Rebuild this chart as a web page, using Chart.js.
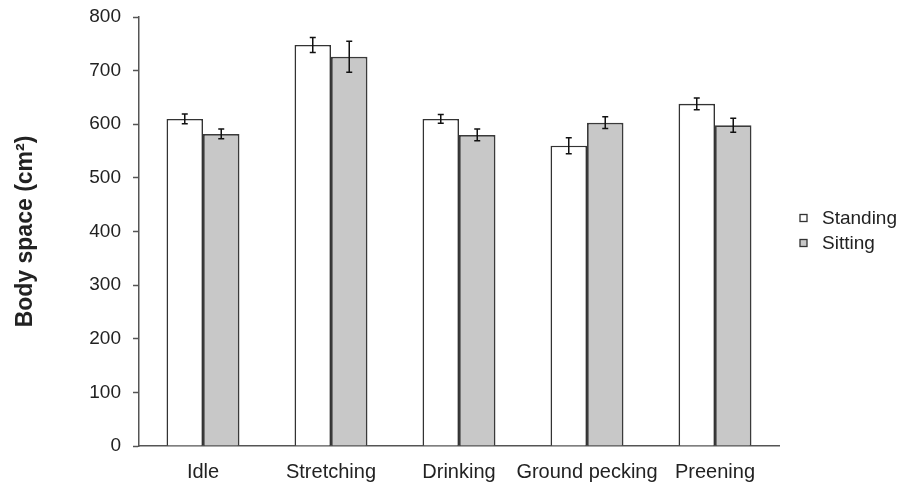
<!DOCTYPE html>
<html>
<head>
<meta charset="utf-8">
<script src="https://cdn.jsdelivr.net/npm/chart.js@4.4.1/dist/chart.umd.min.js"></script>
<style>
  html, body { margin: 0; padding: 0; background: #ffffff; }
  #wrap { width: 914px; height: 485px; position: relative; }
</style>
</head>
<body>
<div id="wrap"><canvas id="chart" width="914" height="485"></canvas></div>
<script>
// Behaviours and body space per posture
const categories = ['Idle', 'Stretching', 'Drinking', 'Ground pecking', 'Preening'];
const standingMeans = [610, 748, 610, 560, 638];
const standingErrors = [9, 14, 8, 15, 11];
const sittingMeans = [582, 726, 580, 603, 598];
const sittingErrors = [9, 29, 11, 11, 13];
const yTicks = [0, 100, 200, 300, 400, 500, 600, 700, 800];

const FONT = "'Liberation Sans', Arial, Helvetica, sans-serif";
const TEXT = '#222222';

// Draws ± error whiskers on top of each bar, using the y scale
const errorBars = {
  id: 'errorBars',
  afterDatasetsDraw(chart) {
    const ctx = chart.ctx;
    const yScale = chart.scales.y;
    chart.data.datasets.forEach((ds, i) => {
      const meta = chart.getDatasetMeta(i);
      meta.data.forEach((bar, j) => {
        const v = ds.data[j];
        const e = ds.errors[j];
        const yTop = yScale.getPixelForValue(v + e);
        const yBot = yScale.getPixelForValue(v - e);
        const x = bar.x;
        const cap = 3;
        ctx.save();
        ctx.strokeStyle = '#111111';
        ctx.lineWidth = 1.5;
        ctx.beginPath();
        ctx.moveTo(x, yTop); ctx.lineTo(x, yBot);
        ctx.moveTo(x - cap, yTop); ctx.lineTo(x + cap, yTop);
        ctx.moveTo(x - cap, yBot); ctx.lineTo(x + cap, yBot);
        ctx.stroke();
        ctx.restore();
      });
    });
  }
};

// Small square-swatch legend to the right of the plot area
const sideLegend = {
  id: 'sideLegend',
  afterDraw(chart) {
    const ctx = chart.ctx;
    const area = chart.chartArea;
    const ds = chart.data.datasets;
    const rowGap = 25;
    const box = 7;
    const x0 = area.right + 21;
    const yStart = 218;
    ctx.save();
    ctx.font = '19px ' + FONT;
    ctx.textBaseline = 'middle';
    ctx.textAlign = 'left';
    ds.forEach((d, i) => {
      const y = yStart + i * rowGap;
      ctx.fillStyle = d.backgroundColor;
      ctx.fillRect(x0, y - box / 2, box, box);
      ctx.strokeStyle = '#333333';
      ctx.lineWidth = 1.3;
      ctx.strokeRect(x0, y - box / 2, box, box);
      ctx.fillStyle = TEXT;
      ctx.fillText(d.label, x0 + 22, y + 1);
    });
    ctx.restore();
  }
};

new Chart(document.getElementById('chart'), {
  type: 'bar',
  data: {
    labels: categories,
    datasets: [
      {
        label: 'Standing',
        data: standingMeans,
        errors: standingErrors,
        backgroundColor: '#ffffff',
        borderColor: '#333333',
        borderWidth: 1.6,
        borderSkipped: 'bottom',
        categoryPercentage: 0.57,
        barPercentage: 1.0
      },
      {
        label: 'Sitting',
        data: sittingMeans,
        errors: sittingErrors,
        backgroundColor: '#c8c8c8',
        borderColor: '#3a3a3a',
        borderWidth: 1.8,
        borderSkipped: 'bottom',
        categoryPercentage: 0.57,
        barPercentage: 1.0
      }
    ]
  },
  options: {
    responsive: false,
    animation: false,
    devicePixelRatio: 1,
    layout: { autoPadding: false, padding: { top: 17, right: 135, left: 0, bottom: 0 } },
    plugins: {
      tooltip: { enabled: false },
      legend: { display: false }
    },
    scales: {
      x: {
        grid: { display: false, drawTicks: false },
        border: { display: true, color: '#555555', width: 1.5 },
        ticks: {
          color: TEXT,
          font: { family: FONT, size: 20 },
          padding: 14,
          maxRotation: 0,
          autoSkip: false
        },
        afterFit(scale) {
          scale.height = 39;
          scale.paddingLeft = 0;
          scale.paddingRight = 0;
        }
      },
      y: {
        min: 0,
        max: 800,
        afterBuildTicks(scale) { scale.ticks = yTicks.map(v => ({ value: v })); },
        grid: { drawOnChartArea: false, drawTicks: true, tickLength: 6, color: '#555555', tickWidth: 1.5 },
        border: { display: true, color: '#555555', width: 1.5 },
        ticks: {
          color: TEXT,
          font: { family: FONT, size: 19 },
          padding: 12
        },
        title: {
          display: true,
          text: 'Body space (cm²)',
          color: TEXT,
          font: { family: FONT, size: 23, weight: 'bold' },
          padding: { top: 12, bottom: 6 }
        },
        afterFit(scale) {
          scale.width = 139;
          scale.paddingTop = 0;
          scale.paddingBottom = 0;
        }
      }
    }
  },
  plugins: [errorBars, sideLegend]
});
</script>
</body>
</html>
